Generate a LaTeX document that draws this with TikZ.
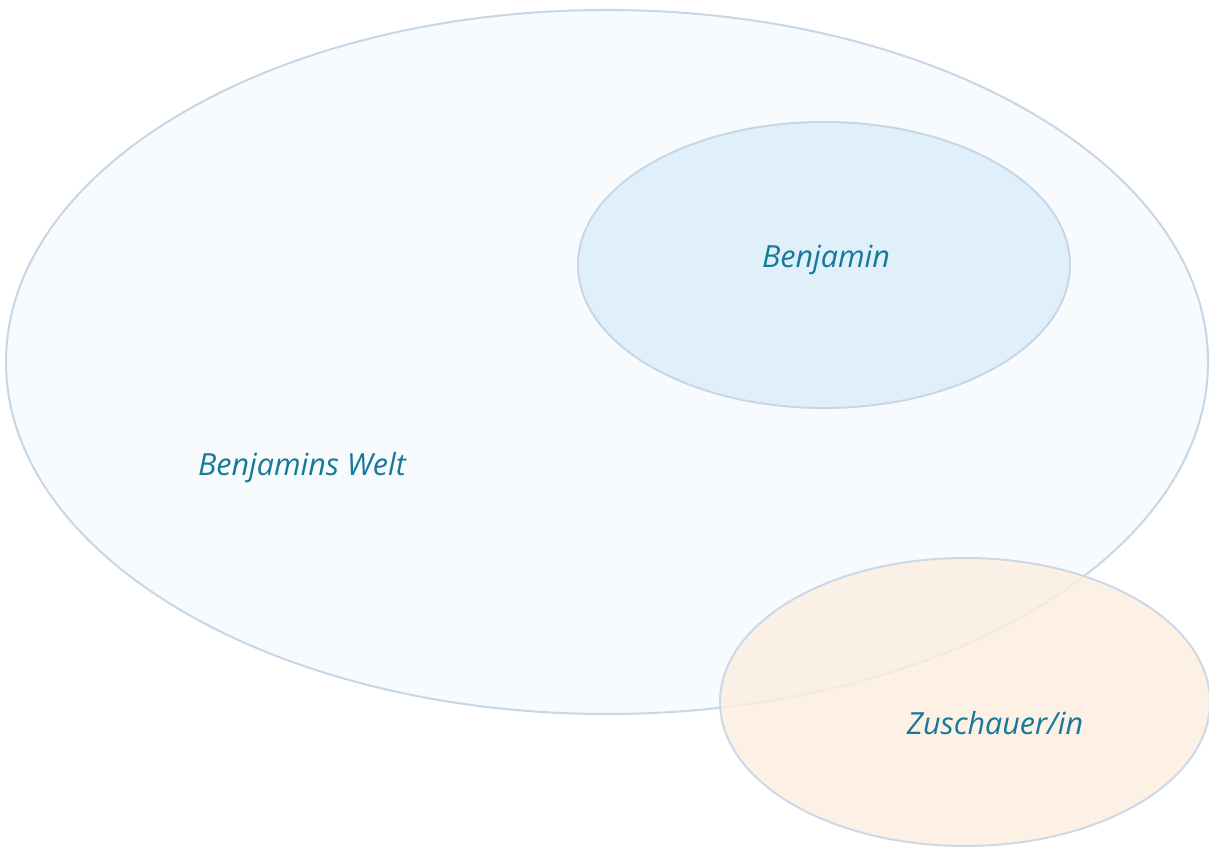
\documentclass[tikz,border=0pt]{standalone}
\usepackage{fontspec}
\setmainfont{Open Sans}
\definecolor{edge}{HTML}{C9D6E5}
\definecolor{worldfill}{HTML}{F7FBFE}
\definecolor{benfill}{HTML}{E0F0FB}
\definecolor{zufill}{HTML}{FDEEDF}
\definecolor{txt}{HTML}{17799A}
\begin{document}
\begin{tikzpicture}[x=1pt,y=1pt,
  blob/.style={draw=edge,line width=2pt},
  lbl/.style={text=txt,font=\fontsize{30.5}{34}\selectfont\itshape,inner sep=0pt}]
\useasboundingbox (0,0) rectangle (1209,846);
\fill[white] (0,0) rectangle (1209,846);
\draw[blob,fill=worldfill] (607,484) ellipse [x radius=601, y radius=352];
\draw[blob,fill=benfill] (824,581) ellipse [x radius=246, y radius=143];
\draw[blob,fill=zufill,fill opacity=0.8,draw opacity=0.9] (965,144) ellipse [x radius=245, y radius=144];
\node[lbl] (welt) at (302,378) {Benjamins Welt};
\node[lbl] (ben) at (826,586) {Benjamin};
\node[lbl] (zu) at (995,123) {Zuschauer/in};
\end{tikzpicture}
\end{document}
